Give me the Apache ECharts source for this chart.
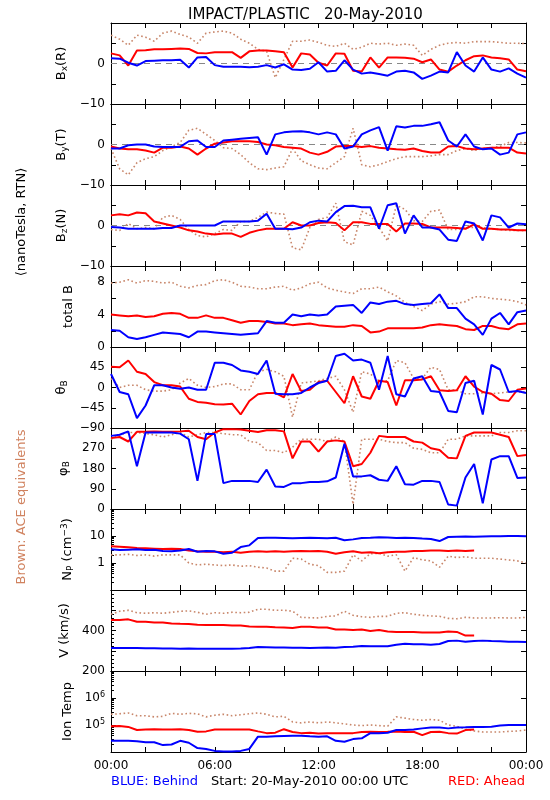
<!DOCTYPE html>
<html><head><meta charset="utf-8">
<script src="https://cdn.jsdelivr.net/npm/echarts@6/dist/echarts.min.js"></script>
<style>html,body{margin:0;padding:0;background:#fff}#c{width:550px;height:800px}</style>
</head><body><div id="c"></div>
<script>
// sample spacing: every 0.5 hour from 00:00 to 24:00 (49 samples)
const STEP_H = 0.5;
const hourTickLabels = ['00:00','06:00','12:00','18:00','00:00'];

const bxRed   = [2.5,2.0,-0.5,3.2,3.3,3.5,3.5,3.6,3.7,3.6,2.6,2.5,2.8,2.8,2.8,1.4,3.0,3.2,3.2,3.0,2.8,-1.0,2.5,2.2,0.2,-0.5,2.5,2.4,-1.8,-2.0,1.5,-1.0,1.5,1.5,1.4,1.2,0.3,1.0,-1.5,-2.0,-0.5,0.8,1.8,2.0,1.5,1.3,1.0,-1.5,-1.9];
const bxBlue  = [1.3,1.2,0.2,-0.5,0.6,0.7,0.8,0.8,0.9,-1.0,1.5,1.6,-0.4,-0.8,-0.8,-0.8,-0.9,-0.8,-0.4,-1.0,-0.2,-1.5,-1.6,-1.3,0.3,-2.0,-1.8,0.8,-1.5,-2.5,-2.2,-2.6,-3.0,-2.0,-1.8,-2.2,-3.8,-3.0,-2.0,-2.2,2.8,-0.5,-2.0,1.5,-1.5,-2.0,-1.2,-2.5,-3.5];
const bxBrown = [7.0,6.0,4.5,7.0,6.5,5.5,7.5,8.0,7.2,6.5,5.0,7.5,7.8,8.0,7.5,6.0,5.0,3.5,3.0,-3.5,1.0,5.5,5.5,5.8,5.2,4.5,4.2,5.0,3.5,4.0,5.0,4.8,5.0,4.5,4.8,4.5,2.0,3.5,4.5,5.0,5.2,5.0,5.4,5.4,5.4,5.2,5.0,5.0,4.9];

const byRed   = [-0.5,-1.0,-1.2,-1.2,-1.5,-2.0,-0.8,-0.8,-0.5,-1.0,-2.5,-1.0,0.2,0.5,0.8,0.8,0.8,0.6,0.0,-0.2,-0.6,-0.8,-1.0,-2.0,-2.5,-1.8,-0.5,-0.4,-0.4,-0.6,-0.4,-0.8,-1.0,-1.2,-1.3,-1.0,-1.6,-2.0,-2.0,-0.5,-0.4,-1.0,-1.2,-1.0,-0.8,-0.8,-0.8,-2.0,-2.2];
const byBlue  = [-1.0,-1.0,-0.2,0.0,0.0,-0.5,-0.6,-0.6,-0.6,0.8,1.0,-0.6,-0.6,1.0,1.2,1.4,1.6,1.8,-2.5,2.5,3.0,3.2,3.3,3.0,2.5,3.0,2.5,-1.0,-0.5,2.5,3.5,4.3,-1.5,4.5,4.2,4.6,4.6,5.0,5.5,1.0,-0.5,2.5,-0.5,-1.2,-1.0,-2.5,-2.0,2.5,3.0];
const byBrown = [-1.0,-6.0,-7.5,-4.5,-3.5,-3.0,-1.5,-0.5,0.5,3.5,4.0,2.5,1.0,-0.8,-1.0,-2.5,-4.5,-6.0,-6.2,-5.8,-5.5,-1.0,-4.0,-5.0,-5.8,-6.0,-4.5,-3.0,4.0,-5.0,-5.5,-5.0,-4.2,-3.5,-3.0,-3.0,-3.0,-2.8,-2.5,-2.5,-1.5,-1.0,-1.5,-1.0,-0.8,-0.5,0.5,0.5,0.4];

const bzRed   = [2.5,2.8,2.5,3.2,3.0,1.0,0.5,0.0,-0.5,-1.2,-1.5,-2.0,-2.2,-2.0,-2.0,-2.8,-1.8,-1.2,-0.8,-0.8,-0.8,0.8,0.0,0.0,0.6,0.8,0.6,-1.2,0.8,0.8,0.4,0.4,0.4,-1.5,0.5,0.5,0.4,-0.5,-0.5,-0.5,-0.6,-0.8,0.3,-0.8,-0.8,-1.0,-1.0,-1.2,-1.2];
const bzBlue  = [-0.4,-0.5,-0.8,-0.8,-0.8,-0.8,-0.6,-0.6,0.0,0.0,0.0,0.0,0.0,1.0,1.0,1.0,1.0,1.2,2.9,-0.8,-0.8,-0.9,-0.5,0.8,1.2,1.0,3.3,4.8,4.9,4.5,4.5,-0.8,5.0,5.5,-2.0,2.5,-0.5,-0.5,-1.0,-3.5,-3.8,1.0,0.5,-3.7,2.5,2.0,-0.5,0.5,0.3];
const bzBrown = [-1.0,-1.2,0.5,-0.8,-0.5,-0.8,2.0,2.5,1.5,-1.0,-2.5,-2.8,-2.0,-1.0,-1.2,1.0,1.0,2.0,3.3,3.0,2.8,-5.5,-6.0,-0.5,1.5,2.0,5.5,-4.0,-4.8,3.5,2.5,-0.5,-3.8,5.0,4.0,1.2,1.0,3.5,3.8,-1.0,-1.0,-0.5,-0.5,-0.5,-0.8,-1.0,-1.2,-1.2,-1.3];

const btRed   = [4.0,3.9,3.8,3.9,3.7,3.8,4.1,4.2,4.1,3.6,3.6,3.9,3.6,3.6,3.3,3.0,3.2,3.2,3.1,2.9,2.9,2.7,2.8,2.9,2.7,2.6,2.5,2.5,2.7,2.6,1.8,1.9,2.3,2.3,2.3,2.3,2.4,2.7,2.8,2.7,2.6,2.2,2.1,2.6,2.6,2.3,2.2,2.8,2.9];
const btBlue  = [2.1,2.0,1.2,1.0,1.2,1.5,1.8,1.7,1.6,1.2,1.9,1.9,1.8,1.7,1.6,1.5,1.6,1.7,3.2,3.0,3.0,4.0,3.8,4.0,3.9,4.0,5.0,5.1,5.2,4.2,5.5,5.3,5.6,5.7,5.3,5.2,5.3,5.4,6.5,4.8,4.8,3.5,2.8,1.5,3.5,4.2,2.8,4.3,4.5];
const btBrown = [7.9,8.0,8.3,7.9,8.2,8.1,7.9,8.0,7.5,7.3,7.6,7.7,8.2,8.3,8.0,7.5,7.4,7.2,7.2,7.4,7.5,7.0,7.3,7.8,8.0,7.3,7.0,6.8,6.6,7.2,7.2,7.4,6.8,6.3,5.5,5.0,4.5,5.3,5.6,5.3,5.4,5.6,6.2,6.2,6.0,5.9,5.8,5.6,5.2];

const thRed   = [46,45,60,35,30,12,5,5,2,-25,-32,-34,-37,-38,-36,-60,-30,-15,-12,-12,-22,30,-8,-5,12,15,-10,-35,25,-20,-25,15,12,-40,16,16,18,25,-6,-8,-6,25,2,-10,-14,-28,-30,-5,-2];
const thBlue  = [30,-10,-15,-68,-40,5,5,0,-3,0,-5,-5,55,55,50,38,35,30,60,-14,-15,-15,-12,0,10,15,70,75,60,62,55,-5,70,-15,-20,20,25,-8,-10,-52,-55,10,15,-60,50,40,-10,-8,-12];
const thBrown = [20,0,5,5,-5,-8,-8,-5,10,20,5,0,2,8,8,-5,-5,35,40,35,25,-66,10,12,15,20,25,-5,-55,35,30,15,15,60,55,20,20,45,40,-5,-6,-14,-14,-12,-14,-12,-10,-10,-10];

const phRed   = [315,320,300,343,343,345,343,343,345,348,320,310,340,355,355,353,348,342,350,350,345,225,300,300,255,300,305,300,190,200,250,325,320,320,320,300,295,270,262,228,225,325,340,340,340,330,320,235,240];
const phBlue  = [325,330,345,190,340,340,340,340,335,310,125,333,333,115,125,125,125,120,175,100,98,115,115,120,120,123,140,290,145,145,150,130,125,190,110,108,125,125,120,20,15,140,200,25,220,235,235,138,140];
const phBrown = [310,330,340,340,335,330,320,330,340,320,330,340,340,335,330,330,300,295,260,260,250,275,310,310,310,300,320,300,20,310,310,310,300,295,295,270,265,250,250,310,310,325,325,325,325,340,340,348,348];

const npRed   = [4.2,4.0,3.8,3.6,3.5,3.4,3.3,3.4,3.3,2.9,2.7,2.6,2.6,2.5,2.6,2.4,2.6,2.7,2.6,2.7,2.6,2.7,2.8,2.7,2.8,2.6,2.2,2.5,2.7,2.4,2.5,2.3,2.5,2.6,2.6,2.8,2.8,2.9,2.9,2.8,2.9,2.8,2.9,null,null,null,null,null,null];
const npBlue  = [3.2,3.0,3.1,3.2,3.0,3.1,2.8,2.7,2.9,3.3,2.6,2.8,2.7,2.2,2.4,3.9,4.5,8.5,8.7,8.6,8.5,8.3,8.5,8.6,8.4,8.2,8.6,7.0,7.5,8.5,8.6,9.0,8.8,8.5,8.6,8.4,8.0,7.8,6.5,9.2,9.4,9.5,9.3,9.5,9.7,9.8,10.0,10.0,9.8];
const npBrown = [2.0,2.0,2.1,1.9,2.0,1.8,2.0,2.0,2.0,1.0,0.85,0.9,0.85,0.8,0.85,0.75,0.8,0.7,0.65,0.5,0.5,1.5,1.4,0.9,0.8,0.45,0.45,0.5,2.0,1.2,2.2,2.3,1.8,2.0,0.5,1.6,1.3,1.2,0.7,1.8,1.6,1.7,1.5,1.5,1.5,1.4,1.3,1.2,1.0];

const vRed    = [452,452,455,443,443,440,440,435,433,432,428,427,427,427,425,425,420,418,418,416,415,412,418,418,415,415,405,405,403,405,398,402,395,393,393,393,390,390,390,395,393,375,375,null,null,null,null,null,null];
const vBlue   = [313,313,313,313,312,312,311,311,310,311,310,310,310,310,310,311,313,318,317,316,316,315,315,314,315,316,315,318,320,323,322,322,322,330,335,332,332,330,333,348,350,345,348,350,348,347,345,345,343];
const vBrown  = [480,495,500,488,485,488,485,490,495,497,490,480,488,485,490,488,490,505,505,500,500,495,465,463,462,470,472,495,475,468,465,470,470,485,488,480,475,472,470,460,458,465,462,462,462,463,462,462,465];

const tRed    = [9.0e4,9.2e4,8.5e4,6.5e4,6.8e4,7.0e4,6.8e4,6.8e4,7.0e4,6.5e4,5.6e4,5.8e4,6.8e4,6.8e4,6.8e4,6.8e4,6.8e4,5.8e4,5.0e4,5.2e4,7.0e4,5.5e4,5.0e4,5.2e4,4.8e4,5.0e4,5.0e4,5.0e4,5.0e4,5.5e4,5.6e4,5.5e4,5.6e4,5.8e4,5.5e4,5.6e4,4.2e4,5.5e4,5.6e4,5.0e4,4.8e4,6.5e4,6.8e4,null,null,null,null,null,null];
const tBlue   = [2.6e4,2.6e4,2.6e4,2.5e4,2.3e4,2.3e4,1.8e4,1.9e4,2.6e4,2.2e4,1.4e4,1.3e4,1.1e4,1.05e4,1.05e4,1.1e4,1.3e4,3.7e4,3.7e4,3.8e4,3.9e4,4.0e4,4.0e4,3.8e4,3.7e4,3.8e4,2.6e4,2.4e4,3.0e4,3.2e4,5.0e4,5.0e4,5.2e4,6.5e4,6.5e4,6.8e4,7.5e4,8.0e4,8.0e4,7.5e4,8.0e4,8.2e4,8.5e4,8.5e4,8.7e4,9.5e4,1.0e5,1.0e5,1.0e5];
const tBrown  = [2.5e5,2.6e5,2.8e5,2.2e5,2.2e5,2.0e5,2.1e5,2.7e5,2.5e5,2.7e5,2.6e5,2.0e5,2.3e5,2.5e5,2.2e5,2.4e5,2.6e5,2.8e5,2.5e5,2.0e5,2.1e5,1.3e5,1.2e5,1.3e5,1.2e5,1.3e5,1.2e5,1.1e5,1.0e5,9.5e4,1.0e5,9.5e4,9.0e4,2.0e5,1.8e5,1.6e5,1.5e5,1.6e5,1.5e5,1.0e5,9.0e4,7.0e4,6.0e4,5.5e4,5.5e4,5.5e4,5.8e4,6.0e4,6.5e4];

const FONT = 'DejaVu Sans';
const BLUE = '#0000ff', RED = '#ff0000', BROWN = '#c8866a';

const panels = [
  {name:'{n|B}{sub|x}{n|(R)}', type:'value', min:-10, max:10, interval:5, labels:[0,-10], zero:true, s:[bxBrown,bxRed,bxBlue]},
  {name:'{n|B}{sub|y}{n|(T)}', type:'value', min:-10, max:10, interval:5, labels:[0,-10], zero:true, s:[byBrown,byRed,byBlue]},
  {name:'{n|B}{sub|z}{n|(N)}', type:'value', min:-10, max:10, interval:5, labels:[0,-10], zero:true, s:[bzBrown,bzRed,bzBlue]},
  {name:'{n|total B}', type:'value', min:0, max:10, interval:2, labels:[0,4,8], s:[btBrown,btRed,btBlue]},
  {name:'{n|θ}{sub|B}', type:'value', min:-90, max:90, interval:45, labels:[45,0,-45,-90], s:[thBrown,thRed,thBlue]},
  {name:'{n|φ}{sub|B}', type:'value', min:0, max:360, interval:90, labels:[0,90,180,270], s:[phBrown,phRed,phBlue]},
  {name:'{n|N}{sub|P}{n| (cm}{sup|−3}{n|)}', type:'log', min:0.1, max:100, labels:[1,10], minor:true, s:[npBrown,npRed,npBlue]},
  {name:'{n|V (km/s)}', type:'value', min:200, max:600, interval:100, labels:[200,400], minor:true, s:[vBrown,vRed,vBlue]},
  {name:'{n|Ion Temp}', type:'log', min:1e4, max:1e7, labels:[1e5,1e6], sci:true, minor:true, s:[tBrown,tRed,tBlue]}
];

const GRID_TOP = 23, GRID_H = 81, GRID_L = 111, GRID_W = 415;
const richName = {
  n:{fontSize:13, fontFamily:FONT, color:'#000'},
  sub:{fontSize:9, fontFamily:FONT, color:'#000', verticalAlign:'bottom', padding:[6,0,0,0]},
  sup:{fontSize:9, fontFamily:FONT, color:'#000', verticalAlign:'top', padding:[0,0,6,0]}
};
const richLab = {
  b:{fontSize:12, fontFamily:FONT, color:'#000'},
  sup:{fontSize:8, fontFamily:FONT, color:'#000', verticalAlign:'top', padding:[0,0,6,0]}
};

const grid=[], xAxis=[], yAxis=[], series=[];
panels.forEach((p,k)=>{
  grid.push({left:GRID_L, width:GRID_W, top:GRID_TOP+k*GRID_H, height:GRID_H});
  const last = k===panels.length-1;
  const xb = {type:'value', gridIndex:k, min:0, max:24, interval:2, position:'bottom',
    axisLine:{show:true, onZero:false, lineStyle:{color:'#000',width:1}},
    axisTick:{show:true, inside:true, length:5, lineStyle:{color:'#000'}},
    axisLabel:{show:last, margin:8, fontFamily:FONT, fontSize:12, color:'#000',
      formatter:v=> (v%6===0 ? hourTickLabels[v/6] : '')},
    splitLine:{show:false}};
  const xt = Object.assign({}, xb, {position:'top', axisLabel:{show:false}});
  xAxis.push(xb, xt);
  const isLab = v => p.labels.some(l => p.type==='log' ? Math.abs(Math.log10(v)-Math.log10(l))<1e-6 : Math.abs(v-l)<1e-9);
  const yl = {type:p.type, gridIndex:k, min:p.min, max:p.max, position:'left',
    axisLine:{show:true, onZero:false, lineStyle:{color:'#000',width:1}},
    axisTick:{show:true, inside:true, length:5, lineStyle:{color:'#000'}},
    minorTick:{show:!!p.minor, splitNumber: p.type==='log'?9:5, length:3, lineStyle:{color:'#000'}},
    splitLine:{show:false},
    axisLabel:{margin:6, fontFamily:FONT, fontSize:12, color:'#000', rich:richLab,
      formatter:v=>{
        if(!isLab(v)) return '';
        if(p.sci) return '{b|10}{sup|'+Math.round(Math.log10(v))+'}';
        return (v<0 ? '−'+Math.abs(v) : String(v));
      }},
    name:p.name, nameLocation:'middle', nameRotate:90, nameGap:36,
    nameTextStyle:{rich:richName, fontFamily:FONT, fontSize:13, color:'#000'}};
  if(p.type==='value') yl.interval = p.interval;
  const yr = {type:p.type, gridIndex:k, min:p.min, max:p.max, position:'right',
    axisLine:{show:true, onZero:false, lineStyle:{color:'#000',width:1}},
    axisTick:{show:true, inside:true, length:5, lineStyle:{color:'#000'}},
    axisLabel:{show:false}, splitLine:{show:false}};
  if(p.type==='value') yr.interval = p.interval;
  yAxis.push(yl, yr);
  const cols=[BROWN,RED,BLUE];
  p.s.forEach((arr,j)=>{
    const s = {type:'line', xAxisIndex:2*k, yAxisIndex:2*k, showSymbol:false, symbol:'none',
      data: arr.map((v,i)=>[i*STEP_H, v]),
      lineStyle: j===0 ? {color:cols[j], width:1.6, type:[1.6,2.6]} : {color:cols[j], width:2},
      itemStyle:{color:cols[j]}, silent:true, z:2+j};
    if(j===0 && p.zero){
      s.markLine = {silent:true, symbol:'none', label:{show:false},
        lineStyle:{color:'#888', type:[6,5], width:1}, data:[{yAxis:0}], z:1};
    }
    series.push(s);
  });
});

const chart = echarts.init(document.getElementById('c'), null, {renderer:'canvas'});
chart.setOption({
  animation:false,
  backgroundColor:'#fff',
  title:{text:'IMPACT/PLASTIC   20-May-2010', left:183, top:3,
    textStyle:{fontFamily:FONT, fontSize:15, fontWeight:'normal', color:'#000'}},
  grid, xAxis, yAxis, series,
  graphic:[
    {type:'text', x:22, y:222, rotation:Math.PI/2,
      style:{text:'⟨nanoTesla, RTN⟩', font:'13px "DejaVu Sans"', fill:'#000', align:'center', verticalAlign:'middle', textAlign:'center', textVerticalAlign:'middle'}},
    {type:'text', x:22, y:507, rotation:Math.PI/2,
      style:{text:'Brown: ACE equivalents', font:'13px "DejaVu Sans"', fill:'#d0825f', align:'center', verticalAlign:'middle', textAlign:'center', textVerticalAlign:'middle'}},
    {type:'text', x:111, y:782,
      style:{text:'BLUE: Behind', font:'13px "DejaVu Sans"', fill:BLUE, align:'left', verticalAlign:'middle', textAlign:'left', textVerticalAlign:'middle'}},
    {type:'text', x:211, y:782,
      style:{text:'Start: 20-May-2010 00:00 UTC', font:'13px "DejaVu Sans"', fill:'#000', align:'left', verticalAlign:'middle', textAlign:'left', textVerticalAlign:'middle'}},
    {type:'text', x:448, y:782,
      style:{text:'RED: Ahead', font:'13px "DejaVu Sans"', fill:RED, align:'left', verticalAlign:'middle', textAlign:'left', textVerticalAlign:'middle'}}
  ]
});
</script></body></html>
